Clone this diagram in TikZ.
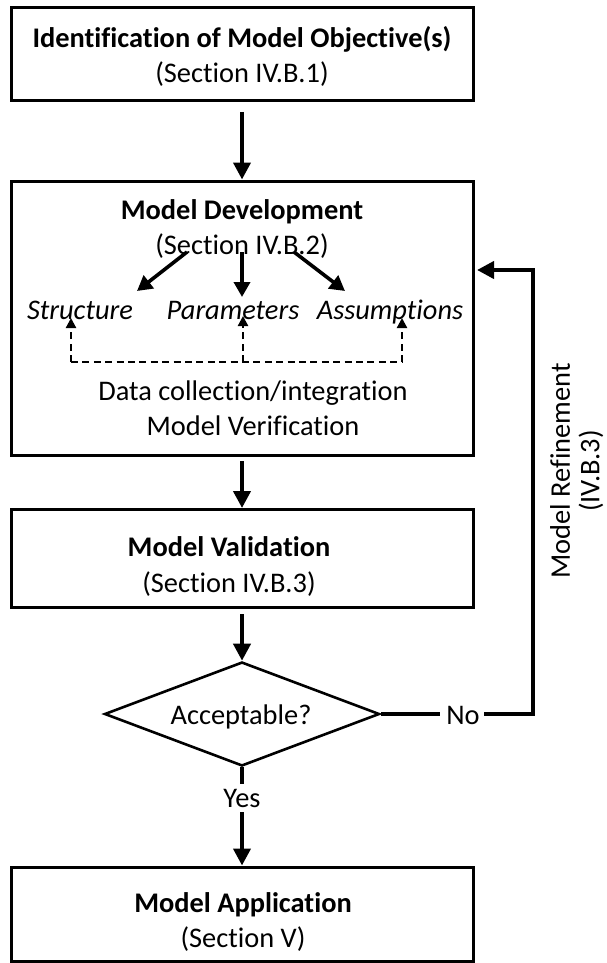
\documentclass[tikz,border=0pt]{standalone}
\usepackage{fontspec}
\setmainfont[Ligatures=NoCommon]{Carlito}
\usetikzlibrary{arrows.meta,shapes.geometric}
\begin{document}
\begin{tikzpicture}[x=0.5pt,y=-0.5pt,
  box/.style={draw,line width=1.5pt,minimum width=231pt,inner sep=0pt},
  lbl/.style={inner sep=0pt,anchor=base,font=\fontsize{14.2}{16}\selectfont},
  blbl/.style={inner sep=0pt,anchor=base,font=\fontsize{14.2}{16}\selectfont\bfseries},
  ilbl/.style={inner sep=0pt,anchor=base,font=\fontsize{14.2}{16}\selectfont\itshape},
  thick arrow/.style={line width=2pt,-{Triangle[width=8.5pt,length=8.5pt]}},
  mid arrow/.style={line width=1.8pt,-{Triangle[width=8pt,length=7.5pt]}},
  dash arrow/.style={line width=1.1pt,dash pattern=on 3.5pt off 2.2pt,-{Triangle[width=5pt,length=5pt]}},
  plain line/.style={line width=2pt}]
\useasboundingbox[fill=white] (0,0) rectangle (606,963);
% boxes
\node[box,minimum height=46.5pt] (obj) at (242,54.5) {};
\node[box,minimum height=137pt] (dev) at (242,318) {};
\node[box,minimum height=49pt] (val) at (242,558.5) {};
\node[box,minimum height=47pt] (app) at (242,914) {};
\node[draw,diamond,line width=1.3pt,minimum width=137.5pt,minimum height=52pt,inner sep=0pt] (acc) at (242,714) {};
% texts
\node[blbl] (t1) at (242,48) {Identification of Model Objective(s)};
\node[lbl] (t2) at (242,83) {(Section IV.B.1)};
\node[blbl] (t3) at (242,219) {Model Development};
\node[lbl] (t4) at (242,254) {(Section IV.B.2)};
\node[ilbl] (st) at (80,319) {Structure};
\node[ilbl] (pa) at (233,319) {Parameters};
\node[ilbl] (as) at (390,319) {Assumptions};
\node[lbl] (dc) at (253,400) {Data collection/integration};
\node[lbl] (mv) at (253,435) {Model Verification};
\node[blbl] (t5) at (229,556) {Model Validation};
\node[lbl] (t6) at (229,592) {(Section IV.B.3)};
\node[lbl] (ac) at (241,724) {Acceptable?};
\node[lbl] (no) at (463,724) {No};
\node[lbl] (yes) at (242,807) {Yes};
\node[blbl] (t7) at (243,912) {Model Application};
\node[lbl] (t8) at (243,947) {(Section V)};
\node[inner sep=0pt,font=\fontsize{14.2}{16}\selectfont,rotate=90] (mr) at (560,471) {Model Refinement};
\node[inner sep=0pt,font=\fontsize{14.2}{16}\selectfont,rotate=90] (mr2) at (591,471) {(IV.B.3)};
% coordinates
\coordinate (a1s) at (242,112);
\coordinate (a2s) at (242,461);
\coordinate (a3s) at (242,614);
\coordinate (y1) at (242,784);
\coordinate (a4s) at (242,812);
\coordinate (nol) at (440,714);
\coordinate (nor) at (484,714);
\coordinate (r1) at (533,714);
\coordinate (r2) at (533,270);
\coordinate (r3) at (477,270);
\coordinate (ls) at (187,252);
\coordinate (le) at (137,291);
\coordinate (ms) at (242,252);
\coordinate (me) at (242,297);
\coordinate (rs) at (294,252);
\coordinate (re) at (345,291);
\coordinate (dl) at (71,362);
\coordinate (dm) at (243,362);
\coordinate (dr) at (402,362);
\coordinate (dlt) at (71,318);
\coordinate (dmt) at (243,316);
\coordinate (drt) at (402,318);
% main arrows
\draw[thick arrow] (a1s) -- (dev.north);
\draw[thick arrow] (a2s) -- (val.north);
\draw[thick arrow] (a3s) -- (acc.north);
\draw[plain line] (acc.south) -- (y1);
\draw[thick arrow] (a4s) -- (app.north);
\draw[plain line] (acc.east) -- (nol);
\draw[line width=2pt,-{Triangle[width=8.5pt,length=8.5pt]}] (nor) -- (r1) -- (r2) -- (r3);
% inner arrows
\draw[mid arrow] (ls) -- (le);
\draw[mid arrow] (ms) -- (me);
\draw[mid arrow] (rs) -- (re);
\draw[line width=1.1pt,dash pattern=on 3.5pt off 2.2pt] (dl) -- (dr);
\draw[dash arrow] (dl) -- (dlt);
\draw[dash arrow] (dm) -- (dmt);
\draw[dash arrow] (dr) -- (drt);
\end{tikzpicture}
\end{document}
